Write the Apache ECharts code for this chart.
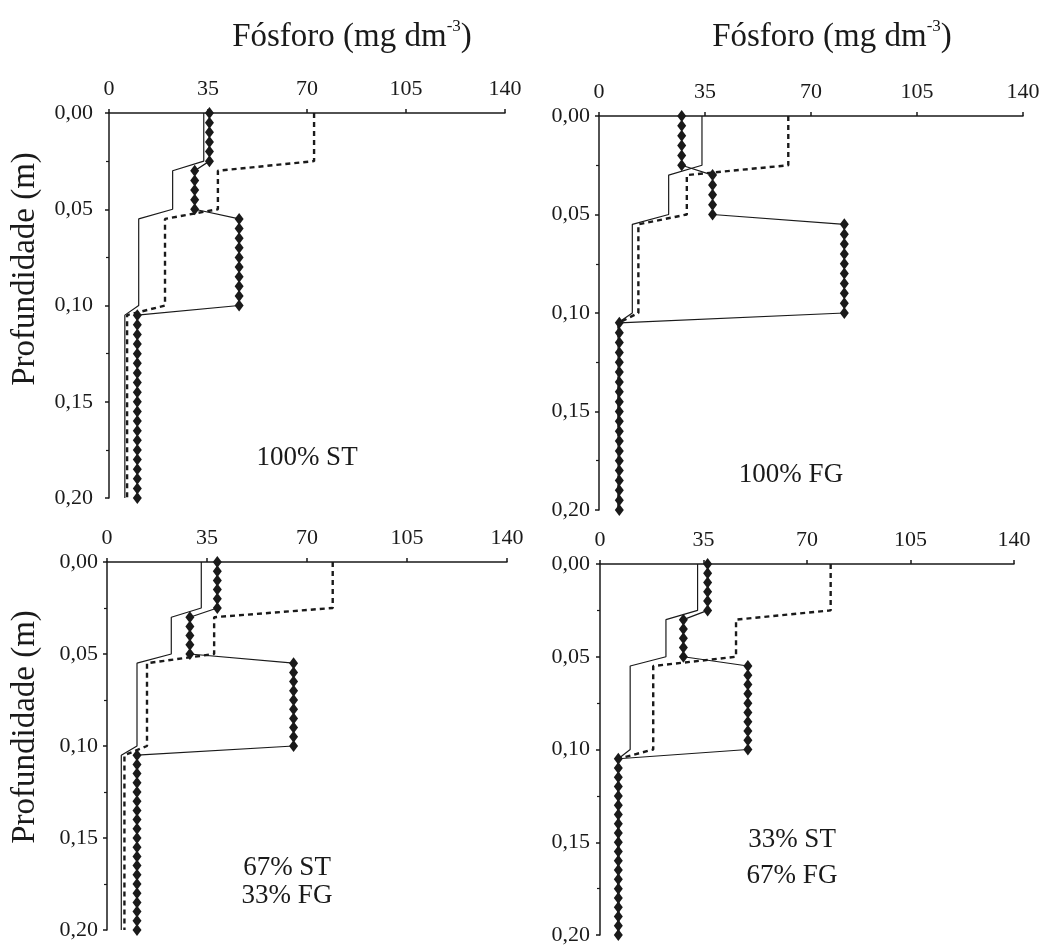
<!DOCTYPE html>
<html>
<head>
<meta charset="utf-8">
<script src="https://cdn.jsdelivr.net/npm/echarts@6/dist/echarts.min.js"></script>
<style>
html,body{margin:0;padding:0;background:#fff}
#chart{width:1049px;height:946px}
</style>
</head>
<body>
<div id="chart"></div>
<script>
// profundidade (m), pontos a cada 0,005 m
var depths = [0, 0.005, 0.01, 0.015, 0.02, 0.025,
    0.03, 0.035, 0.04, 0.045, 0.05,
    0.055, 0.06, 0.065, 0.07, 0.075, 0.08, 0.085, 0.09, 0.095, 0.1,
    0.105, 0.11, 0.115, 0.12, 0.125, 0.13, 0.135, 0.14, 0.145, 0.15,
    0.155, 0.16, 0.165, 0.17, 0.175, 0.18, 0.185, 0.19, 0.195, 0.2]
// fundo de cada camada
var layerBottoms = [0.025, 0.05, 0.10, 0.20]
var xTicks = [0, 35, 70, 105, 140]
var panelNames = ['100% ST', '100% FG', '67% ST\n33% FG', '33% ST\n67% FG']

// fósforo por camada (mg dm-3), um array por painel
var solidP = [
    [33.5, 22.5, 10.5, 5.6],
    [34, 23, 11, 6.3],
    [33, 22.5, 10.5, 5],
    [33, 22.3, 10.2, 6.2]
]
var dashP = [
    [72.5, 38.5, 19.8, 6.4],
    [62.5, 29, 13, 6.5],
    [79, 37.5, 14, 6.1],
    [78, 46, 18, 6.2]
]
var diamondP = [
    [35.5, 30.3, 46, 10],
    [27.3, 37.5, 81, 6.7],
    [38.6, 29, 65.3, 10.5],
    [36.4, 28.2, 50, 6.2]
]

var serif = 'Liberation Serif'
var ink = '#1a1a1a'

var grids = [
    {left: 109, top: 113, width: 396, height: 385},
    {left: 599, top: 116, width: 424, height: 394},
    {left: 107, top: 562, width: 400, height: 368},
    {left: 600, top: 564, width: 414, height: 375}
]
var yMargins = [16, 9, 9, 10]

var layerOf = function(d){
    for(var i=0;i<layerBottoms.length;i++){
        if(d <= layerBottoms[i] + 1e-9) return i
    }
    return layerBottoms.length-1
}
var profile = function(vals){
    return depths.map(function(d){ return [vals[layerOf(d)], d] })
}

var xAxes = [], yAxes = [], series = []
for(var p=0;p<4;p++){
    xAxes.push({
        type: 'value', gridIndex: p, position: 'top',
        min: xTicks[0], max: xTicks[xTicks.length-1], interval: 35,
        axisLine: {show: true, lineStyle: {color: ink, width: 1.5}},
        axisTick: {show: true, length: 4, lineStyle: {color: ink, width: 1.5}},
        splitLine: {show: false},
        axisLabel: {fontFamily: serif, fontSize: 22, color: ink, margin: 13}
    })
    yAxes.push({
        type: 'value', gridIndex: p, inverse: true,
        min: 0, max: 0.2, interval: 0.05,
        axisLine: {show: true, lineStyle: {color: ink, width: 1.5}},
        axisTick: {show: true, length: 4, lineStyle: {color: ink, width: 1.5}},
        minorTick: {show: true, splitNumber: 2, length: 3, lineStyle: {color: ink, width: 1.2}},
        splitLine: {show: false},
        axisLabel: {
            fontFamily: serif, fontSize: 22, color: ink, margin: yMargins[p],
            formatter: function(v){ return v.toFixed(2).replace('.', ',') }
        }
    })
    series.push({
        type: 'line', xAxisIndex: p, yAxisIndex: p,
        data: profile(solidP[p]), symbol: 'none',
        lineStyle: {color: ink, width: 1.2}
    })
    series.push({
        type: 'line', xAxisIndex: p, yAxisIndex: p,
        data: profile(dashP[p]), symbol: 'none',
        lineStyle: {color: ink, width: 2.4, type: [5, 4]}
    })
    series.push({
        type: 'line', xAxisIndex: p, yAxisIndex: p,
        data: profile(diamondP[p]), symbol: 'diamond', symbolSize: [9, 12],
        itemStyle: {color: ink},
        lineStyle: {color: ink, width: 1.2}
    })
}

var titleText = function(cx){
    return {
        type: 'text', x: cx, y: 37,
        style: {
            text: '{a|Fósforo (mg dm}{s|-3}{a|)}',
            align: 'center', verticalAlign: 'middle',
            rich: {
                a: {fontFamily: serif, fontSize: 33, lineHeight: 38, fill: ink},
                s: {fontFamily: serif, fontSize: 17, lineHeight: 20, verticalAlign: 'top', fill: ink}
            }
        }
    }
}
var yName = function(cy){
    return {
        type: 'text', x: 25, y: cy, rotation: Math.PI/2,
        style: {text: 'Profundidade (m)', fontFamily: serif, fontSize: 33, fill: ink,
            align: 'center', verticalAlign: 'middle'}
    }
}
var note = function(i, cx, cy, lh){
    return {
        type: 'text', x: cx, y: cy,
        style: {text: panelNames[i], fontFamily: serif, fontSize: 27, lineHeight: lh, fill: ink,
            align: 'center', verticalAlign: 'middle'}
    }
}

var chart = echarts.init(document.getElementById('chart'))
chart.setOption({
    animation: false,
    backgroundColor: '#fff',
    grid: grids,
    xAxis: xAxes,
    yAxis: yAxes,
    series: series,
    graphic: [
        titleText(352), titleText(832),
        yName(269), yName(727),
        note(0, 307, 458, 28), note(1, 791, 475, 28),
        note(2, 287, 882, 28), note(3, 792, 858, 36)
    ]
})
</script>
</body>
</html>
